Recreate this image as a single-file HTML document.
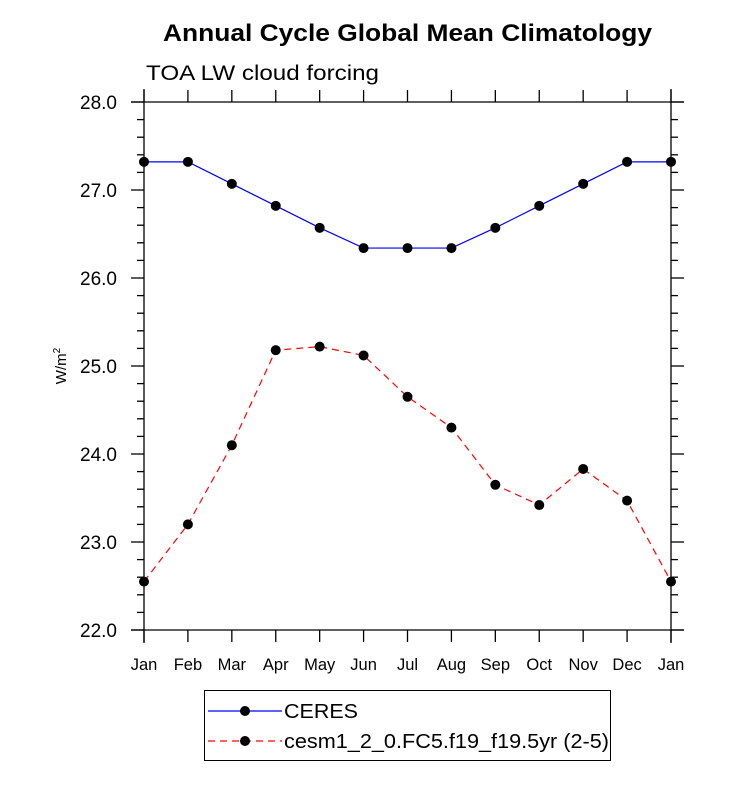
<!DOCTYPE html>
<html><head><meta charset="utf-8"><style>
body{margin:0;background:#fff}
svg text{font-family:"Liberation Sans",Arial,sans-serif;fill:#000}
</style></head><body>
<svg width="733" height="782" xmlns="http://www.w3.org/2000/svg">
<text x="163" y="41" font-size="24" font-weight="bold" textLength="489" lengthAdjust="spacingAndGlyphs">Annual Cycle Global Mean Climatology</text>
<text x="146" y="80" font-size="21" textLength="233" lengthAdjust="spacingAndGlyphs">TOA LW cloud forcing</text>
<text transform="translate(66,366) rotate(-90)" font-size="15" text-anchor="middle">W/m<tspan dy="-6" font-size="10">2</tspan></text>
<g id="axes"></g>
<g id="series"></g>
<g>
<rect x="204.5" y="690.5" width="406" height="70" fill="none" stroke="#000" stroke-width="1"/>
<g>
<line x1="208" y1="711" x2="282" y2="711" stroke="#0000ff" stroke-width="1.2"/>
<circle cx="245" cy="711" r="5" fill="#000"/>
<text x="284" y="718" font-size="20" textLength="74" lengthAdjust="spacingAndGlyphs">CERES</text></g>
<g>
<line x1="208" y1="741" x2="282" y2="741" stroke="#ff0000" stroke-width="1.2" stroke-dasharray="7,5"/>
<circle cx="245" cy="741" r="5" fill="#000"/>
<text x="284" y="748" font-size="20" textLength="325" lengthAdjust="spacingAndGlyphs">cesm1_2_0.FC5.f19_f19.5yr (2-5)</text></g>
</g>
</svg>
<script>
const months=["Jan","Feb","Mar","Apr","May","Jun","Jul","Aug","Sep","Oct","Nov","Dec","Jan"];
const ceres=[27.32,27.32,27.07,26.82,26.57,26.34,26.34,26.34,26.57,26.82,27.07,27.32,27.32];
const model=[22.55,23.2,24.1,25.18,25.22,25.12,24.65,24.3,23.65,23.42,23.83,23.47,22.55];
const yTicks=[22,23,24,25,26,27,28];
const yLabels=["22.0","23.0","24.0","25.0","26.0","27.0","28.0"];
const X0=144,X1=671,Y0=630,Y1=102,ymin=22,ymax=28;
const xs=i=>X0+(X1-X0)*i/(months.length-1);
const ys=v=>Y0-(v-ymin)/(ymax-ymin)*(Y0-Y1);
const NS="http://www.w3.org/2000/svg";
function mk(t,a,p){const e=document.createElementNS(NS,t);for(const k in a)e.setAttribute(k,a[k]);p.appendChild(e);return e;}
const ax=document.getElementById('axes');
const L=(x1,y1,x2,y2)=>mk('line',{x1,y1,x2,y2,stroke:'#000','stroke-width':1.3},ax);
L(X0-13,Y0,X1+13,Y0);L(X0-13,Y1,X1+13,Y1);L(X0,Y1-13,X0,Y0+13);L(X1,Y1-13,X1,Y0+13);
months.forEach((m,i)=>{const x=xs(i);L(x,Y0,x,Y0+12);L(x,Y1,x,Y1-12);
const t=mk('text',{x:x,y:Y0+40,'font-size':16.5,'text-anchor':'middle'},ax);t.textContent=m;

});
for(let v=ymin;v<=ymax+1e-9;v+=0.2){const y=ys(v);const maj=Math.abs(v-Math.round(v))<1e-6;const len=maj?13:7;
L(X0-len,y,X0,y);L(X1,y,X1+len,y);}
yTicks.forEach((v,i)=>{const t=mk('text',{x:X0-27,y:ys(v)+7,'font-size':19,'text-anchor':'end'},ax);t.textContent=yLabels[i];

});
const sg=document.getElementById('series');
function draw(vals,color,dash,name){
const pts=vals.map((v,i)=>xs(i)+','+ys(v)).join(' ');
const pl=mk('polyline',{points:pts,fill:'none',stroke:color,'stroke-width':1.2,'stroke-dasharray':dash},sg);


vals.forEach((v,i)=>{const c=mk('circle',{cx:xs(i),cy:ys(v),r:5,fill:'#000'},sg);

});}
draw(ceres,'#0000ff','none','ceres');
draw(model,'#ff0000','7,5','model');
</script>
</body></html>
